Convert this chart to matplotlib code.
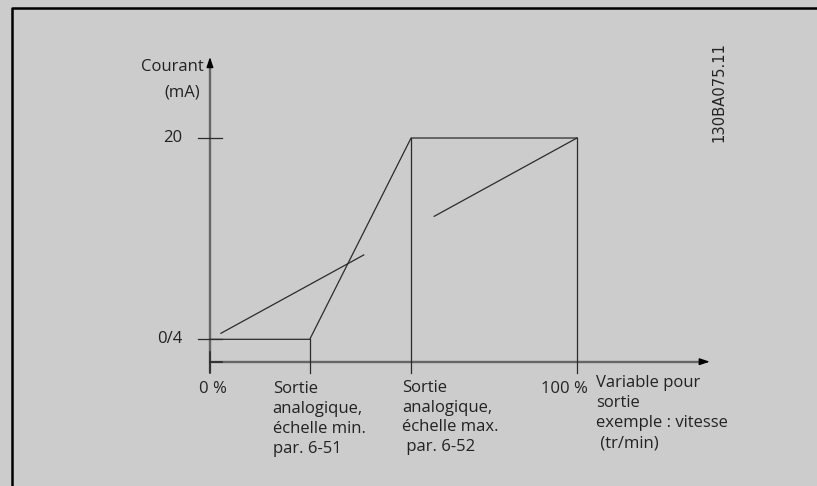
import matplotlib.pyplot as plt

# valeurs du schéma (x en %, y en mA)
pct_debut = 0
pct_min = 27.2      # échelle min. par. 6-51
pct_max = 54.8      # échelle max. par. 6-52
pct_fin = 100
courant_bas = 4
courant_haut = 20

# droite de référence 0 % -> 100 %, tracée en deux morceaux
ref_morceaux = [(3.0, 41.9), (61.1, 100.0)]

etiquettes_y = ['0/4', '20']
texte_min = 'Sortie\nanalogique,\néchelle min.\npar. 6-51'
texte_max = 'Sortie\nanalogique,\néchelle max.\n par. 6-52'
texte_var = 'Variable pour\nsortie\nexemple : vitesse\n (tr/min)'

fond = '#cccccc'
trait = '#2b2b2b'
axe = '#666666'

plt.rcParams['font.family'] = ['Open Sans', 'DejaVu Sans']

fig = plt.figure(figsize=(8.17, 4.86), dpi=100, facecolor=fond)
ax = fig.add_axes([0, 0, 1, 1])
ax.set_facecolor(fond)
ax.set_xlim(-57.2, 165.4)
ax.set_ylim(-7.66, 30.97)
ax.axis('off')

# cadre (gauche et haut seulement)
ax.plot([0.0141, 0.0141, 1.0], [0.0, 0.9835, 0.9835], transform=ax.transAxes,
        color='black', lw=1.8, solid_capstyle='butt', clip_on=False)

y_axe = 2.22
y_bas = 1.32

# axes du graphique
ax.plot([pct_debut, pct_debut], [y_bas, 25.9], color=axe, lw=1.7, solid_capstyle='butt')
ax.plot([pct_debut, 134], [y_axe, y_axe], color=axe, lw=1.7, solid_capstyle='butt')
ax.annotate('', xy=(pct_debut, 26.44), xytext=(pct_debut, 25.6),
            arrowprops=dict(arrowstyle='-|>,head_length=0.6,head_width=0.2',
                            color='black', lw=1.0, shrinkA=0, shrinkB=0))
ax.annotate('', xy=(136.2, y_axe), xytext=(133.5, y_axe),
            arrowprops=dict(arrowstyle='-|>,head_length=0.6,head_width=0.2',
                            color='black', lw=1.0, shrinkA=0, shrinkB=0))
ax.plot([pct_debut, pct_debut], [y_bas, 3.0], color=trait, lw=1.2)
ax.plot([pct_debut, 3.3], [y_axe, y_axe], color=trait, lw=1.2)

# graduations de courant
for val in [courant_bas, courant_haut]:
    ax.plot([-3.3, 3.3], [val, val], color=trait, lw=0.9)

# courbe de sortie
ax.plot([pct_debut, pct_min, pct_max, pct_fin],
        [courant_bas, courant_bas, courant_haut, courant_haut], color=trait, lw=0.9)
ax.plot([pct_min, pct_min], [y_bas, courant_bas], color=trait, lw=0.9)
ax.plot([pct_max, pct_max], [y_bas, courant_haut], color=trait, lw=0.9)
ax.plot([pct_fin, pct_fin], [y_bas, courant_haut], color=trait, lw=0.9)

# droite de référence
for x0, x1 in ref_morceaux:
    y0 = courant_bas + (courant_haut - courant_bas) * x0 / pct_fin
    y1 = courant_bas + (courant_haut - courant_bas) * x1 / pct_fin
    ax.plot([x0, x1], [y0, y1], color=trait, lw=0.9)

# textes
fs = 12
col = '#222222'
ax.text(-1.6, 25.65, 'Courant', ha='right', va='center', fontsize=fs, color=col)
ax.text(-2.7, 23.58, '(mA)', ha='right', va='center', fontsize=fs, color=col)
ax.text(-7.6, courant_haut, etiquettes_y[1], ha='right', va='center', fontsize=fs, color=col)
ax.text(-7.6, courant_bas, etiquettes_y[0], ha='right', va='center', fontsize=fs, color=col)
ax.text(pct_debut + 0.8, 0.06, '0 %', ha='center', va='center', fontsize=fs, color=col)
ax.text(103, 0.06, '100 %', ha='right', va='center', fontsize=fs, color=col)
ax.text(17.1, 0.65, texte_min, ha='left', va='top', fontsize=fs, color=col, linespacing=1.33)
ax.text(52.3, 0.8, texte_max, ha='left', va='top', fontsize=fs, color=col, linespacing=1.33)
ax.text(105.2, 1.15, texte_var, ha='left', va='top', fontsize=fs, color=col, linespacing=1.33)
ax.text(0.88, 0.811, '130BA075.11', transform=ax.transAxes, rotation=90,
        ha='center', va='center', fontsize=10.6, color=col, family=['DejaVu Sans'])

fig.savefig('out.png', dpi=100, facecolor=fond)
